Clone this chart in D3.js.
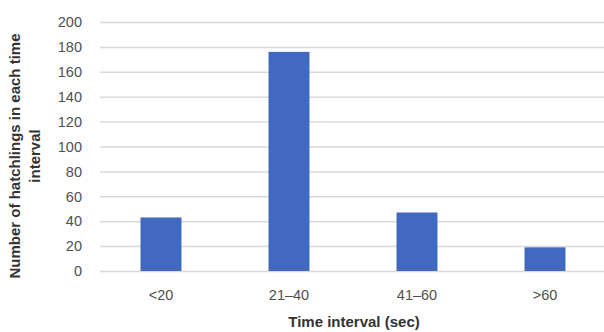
<!DOCTYPE html>
<html>
<head>
<meta charset="utf-8">
<script src="https://cdn.jsdelivr.net/npm/d3@7"></script>
<style>
  body { margin: 0; background: #fff; }
  text { font-family: "Liberation Sans", Arial, sans-serif; }
</style>
</head>
<body>
<svg id="chart" width="604" height="332"></svg>
<script>
var categories = ["<20", "21\u201340", "41\u201360", ">60"];
var hatchlings = [43, 176, 47, 19];
var yTicks = [0, 20, 40, 60, 80, 100, 120, 140, 160, 180, 200];
var yTitleLines = ["Number of hatchlings in each time", "interval"];

var svg = d3.select("#chart");

var x = d3.scaleBand()
    .domain(categories)
    .range([97, 609])
    .paddingInner(0.68)
    .paddingOuter(0.34);

var y = d3.scaleLinear()
    .domain([0, 200])
    .range([271, 22]);

// gridlines
svg.append("g")
    .selectAll("line")
    .data(yTicks)
    .enter().append("line")
    .attr("x1", 100)
    .attr("x2", 604)
    .attr("y1", d => y(d) + 0.5)
    .attr("y2", d => y(d) + 0.5)
    .attr("stroke", "#dcd8d6")
    .attr("stroke-width", 1.5);

// y labels
svg.append("g")
    .selectAll("text")
    .data(yTicks)
    .enter().append("text")
    .attr("x", 82)
    .attr("y", d => y(d))
    .attr("dy", "0.36em")
    .attr("text-anchor", "end")
    .attr("font-size", 14.5)
    .attr("fill", "#505050")
    .text(d => d);

// bars
svg.append("g")
    .selectAll("rect")
    .data(hatchlings)
    .enter().append("rect")
    .attr("x", (d, i) => x(categories[i]))
    .attr("width", x.bandwidth())
    .attr("y", d => y(d))
    .attr("height", d => y(0) - y(d))
    .attr("fill", "#4169c0");

// x labels
svg.append("g")
    .selectAll("text")
    .data(categories)
    .enter().append("text")
    .attr("x", d => x(d) + x.bandwidth() / 2)
    .attr("y", 300)
    .attr("text-anchor", "middle")
    .attr("font-size", 14.5)
    .attr("fill", "#505050")
    .text(d => d);

// axis titles
svg.append("text")
    .attr("x", 354)
    .attr("y", 327)
    .attr("text-anchor", "middle")
    .attr("font-size", 15)
    .attr("font-weight", "bold")
    .attr("fill", "#333")
    .text("Time interval (sec)");

svg.append("g")
    .selectAll("text")
    .data(yTitleLines)
    .enter().append("text")
    .attr("transform", (d, i) => "translate(" + (15 + i * 20) + ",156) rotate(-90)")
    .attr("dy", "0.35em")
    .attr("text-anchor", "middle")
    .attr("font-size", 15)
    .attr("font-weight", "bold")
    .attr("fill", "#333")
    .text(d => d);
</script>
</body>
</html>
